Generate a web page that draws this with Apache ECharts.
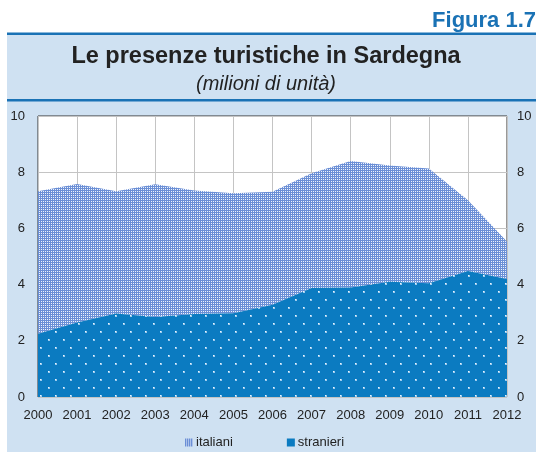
<!DOCTYPE html>
<html>
<head>
<meta charset="utf-8">
<script src="https://cdn.jsdelivr.net/npm/echarts@6/dist/echarts.min.js"></script>
<style>
html,body{margin:0;padding:0;background:#fff;}
#c{width:536px;height:452px;}
</style>
</head>
<body>
<div id="c"></div>
<script>
const years = ['2000','2001','2002','2003','2004','2005','2006','2007','2008','2009','2010','2011','2012'];
const stranieri = [2.25, 2.65, 2.97, 2.85, 2.95, 2.98, 3.28, 3.88, 3.9, 4.1, 4.05, 4.48, 4.2];
const italiani = [5.07, 4.93, 4.35, 4.72, 4.4, 4.27, 4.02, 4.08, 4.5, 4.14, 4.08, 2.52, 1.33];
const yTicks = [0, 2, 4, 6, 8, 10];

function checker() {
  const c = document.createElement('canvas');
  c.width = 2; c.height = 2;
  const g = c.getContext('2d');
  g.fillStyle = '#6b8fd6'; g.fillRect(0,0,2,2);
  g.fillStyle = '#eef3fc'; g.fillRect(1,1,1,1);
  return c;
}
function dots() {
  const c = document.createElement('canvas');
  c.width = 15; c.height = 16;
  const g = c.getContext('2d');
  g.fillStyle = '#0b7bc1'; g.fillRect(0,0,15,16);
  g.fillStyle = '#9ccbee';
  g.fillRect(3,3,2,2); g.fillRect(10,11,2,2);
  g.fillStyle = '#eef6fc';
  g.fillRect(3,3,1,1); g.fillRect(10,11,1,1);
  return c;
}
const patItal = {image: checker(), repeat: 'repeat'};
const patStr = {image: dots(), repeat: 'repeat'};

const FONT = 'Liberation Sans, Arial, sans-serif';
const chart = echarts.init(document.getElementById('c'), null, {renderer: 'canvas'});
const yAxisCommon = {
  type: 'value', min: 0, max: 10, interval: 2,
  axisLine: {show: false}, axisTick: {show: false},
  axisLabel: {color: '#222', fontSize: 13, fontFamily: FONT},
};
chart.setOption({
  animation: false,
  graphic: [
    {type: 'rect', shape: {x: 7, y: 34, width: 529, height: 418}, style: {fill: '#cfe1f2'}, z: -10},
    {type: 'rect', shape: {x: 7, y: 32.5, width: 529, height: 2.5}, style: {fill: '#1a72b5'}, z: -9},
    {type: 'rect', shape: {x: 7, y: 99, width: 529, height: 2.5}, style: {fill: '#1a72b5'}, z: -9},
    {type: 'text', right: 0, top: 10, style: {text: 'Figura 1.7', fill: '#1a72b5', font: 'bold 22px ' + FONT}},
    {type: 'text', x: 266, y: 57, style: {text: 'Le presenze turistiche in Sardegna', fill: '#222', font: 'bold 23.5px ' + FONT, align: 'center', verticalAlign: 'middle'}},
    {type: 'text', x: 266, y: 84, style: {text: '(milioni di unità)', fill: '#222', font: 'italic 20px ' + FONT, align: 'center', verticalAlign: 'middle'}}
  ],
  grid: {left: 38, right: 29, top: 116, bottom: 55, show: true, backgroundColor: '#fff', borderColor: '#333', borderWidth: 1},
  legend: {
    bottom: 3, left: 185, padding: 0, itemGap: 54, itemWidth: 8, itemHeight: 8, icon: 'rect',
    textStyle: {color: '#222', fontSize: 13, fontFamily: FONT, padding: [0,0,0,-2]},
    data: [
      {name: 'italiani', itemStyle: {color: patItal}},
      {name: 'stranieri', itemStyle: {color: '#0b7bc1'}}
    ]
  },
  xAxis: {
    type: 'category', data: years, boundaryGap: false,
    axisLine: {show: false}, axisTick: {show: false},
    axisLabel: {color: '#222', fontSize: 13, margin: 12, fontFamily: FONT},
    splitLine: {show: true, lineStyle: {color: '#c4c4c4', width: 1}}
  },
  yAxis: [
    Object.assign({}, yAxisCommon, {position: 'left', axisLabel: Object.assign({}, yAxisCommon.axisLabel, {margin: 13}), splitLine: {show: true, lineStyle: {color: '#c4c4c4', width: 1}}}),
    Object.assign({}, yAxisCommon, {position: 'right', axisLabel: Object.assign({}, yAxisCommon.axisLabel, {margin: 10}), splitLine: {show: false}})
  ],
  series: [
    {name: 'stranieri', type: 'line', stack: 'tot', data: stranieri, symbol: 'none', lineStyle: {width: 0}, areaStyle: {color: patStr, opacity: 1}, itemStyle: {color: '#0b7bc1'}, z: 3},
    {name: 'italiani', type: 'line', stack: 'tot', data: italiani, symbol: 'none', lineStyle: {width: 0}, areaStyle: {color: patItal, opacity: 1}, itemStyle: {color: patItal}, z: 2}
  ]
});
</script>
</body>
</html>
